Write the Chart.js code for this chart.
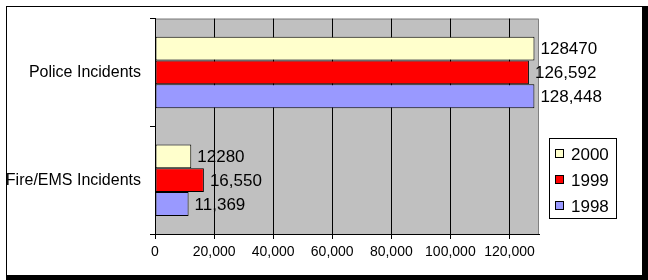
<!DOCTYPE html>
<html>
<head>
<meta charset="utf-8">
<style>
  html, body { margin: 0; padding: 0; background: #fff; }
  #wrap { width: 648px; height: 280px; }
</style>
<script src="https://cdn.jsdelivr.net/npm/chart.js@4.4.0/dist/chart.umd.min.js"></script>
</head>
<body>
<div id="wrap"><canvas id="incidents" width="648" height="280"></canvas></div>
<script>
// data
var categories = ['Police Incidents', 'Fire/EMS Incidents'];
var years = ['2000', '1999', '1998'];
var values2000 = [128470, 12280];
var values1999 = [126592, 16550];
var values1998 = [128448, 11369];
var useCommas = [false, true, true];   // the 2000 labels were typed without separators
var xMax = 130000;
var xTicks = [0, 20000, 40000, 60000, 80000, 100000, 120000];

var colors = ['#ffffcc', '#ff0000', '#9999ff'];
var FONT = '"Liberation Sans", Arial, sans-serif';

// frame, shadow and grey plot background
var backdrop = {
  id: 'backdrop',
  beforeDraw: function (chart) {
    var ctx = chart.ctx, a = chart.chartArea;
    ctx.save();
    ctx.fillStyle = '#fff';
    ctx.fillRect(0, 0, chart.width, chart.height);
    ctx.fillStyle = '#000';
    ctx.fillRect(642, 6, 6, 274);
    ctx.fillRect(6, 275, 642, 5);
    ctx.strokeStyle = '#000';
    ctx.lineWidth = 1;
    ctx.strokeRect(6.5, 6.5, 636, 269);
    ctx.fillStyle = '#c0c0c0';
    ctx.fillRect(a.left, a.top, a.right - a.left, a.bottom - a.top);
    ctx.strokeStyle = '#808080';
    ctx.beginPath();
    ctx.moveTo(a.left, a.top + 0.5);
    ctx.lineTo(Math.round(a.right) - 0.5, a.top + 0.5);
    ctx.lineTo(Math.round(a.right) - 0.5, a.bottom);
    ctx.stroke();
    ctx.restore();
  }
};

// value labels at the bar ends
var barLabels = {
  id: 'barLabels',
  afterDatasetsDraw: function (chart) {
    var ctx = chart.ctx;
    ctx.save();
    ctx.font = '17px ' + FONT;
    ctx.fillStyle = '#000';
    ctx.textAlign = 'left';
    ctx.textBaseline = 'middle';
    chart.data.datasets.forEach(function (ds, i) {
      chart.getDatasetMeta(i).data.forEach(function (bar, j) {
        var v = ds.data[j];
        var txt = useCommas[i] ? v.toLocaleString('en-US') : String(v);
        ctx.fillText(txt, bar.x + 6, bar.y + 1);
      });
    });
    ctx.restore();
  }
};

// boxed legend on the right
var boxLegend = {
  id: 'boxLegend',
  afterDraw: function (chart) {
    var ctx = chart.ctx, a = chart.chartArea;
    var left = Math.round(a.right) + 10, top = 138;
    ctx.save();
    ctx.fillStyle = '#fff';
    ctx.fillRect(left, top, 68, 81);
    ctx.strokeStyle = '#000';
    ctx.lineWidth = 1;
    ctx.strokeRect(left + 0.5, top + 0.5, 67, 80);
    ctx.font = '17px ' + FONT;
    ctx.textBaseline = 'middle';
    chart.data.datasets.forEach(function (ds, i) {
      var cy = top + 16 + i * 26;
      ctx.fillStyle = ds.backgroundColor;
      ctx.fillRect(left + 7, cy - 4, 7, 7);
      ctx.strokeRect(left + 6.5, cy - 4.5, 8, 8);
      ctx.fillStyle = '#000';
      ctx.fillText(ds.label, left + 22, cy + 1);
    });
    ctx.restore();
  }
};

var datasets = [values2000, values1999, values1998].map(function (vals, i) {
  return {
    label: years[i],
    data: vals,
    backgroundColor: colors[i],
    borderColor: '#000',
    borderWidth: 1,
    borderSkipped: false,
    barPercentage: 1,
    categoryPercentage: 0.664
  };
});

new Chart(document.getElementById('incidents'), {
  type: 'bar',
  data: { labels: categories, datasets: datasets },
  plugins: [backdrop, barLabels, boxLegend],
  options: {
    indexAxis: 'y',
    responsive: false,
    animation: false,
    layout: { padding: { left: 0, top: 17, right: 109, bottom: 0 } },
    plugins: {
      legend: { display: false },
      tooltip: { enabled: false }
    },
    scales: {
      x: {
        min: 0,
        max: xMax,
        afterFit: function (s) { s.height = 46; },
        afterBuildTicks: function (s) {
          s.ticks = xTicks.map(function (v) { return { value: v }; });
        },
        ticks: {
          autoSkip: false,
          maxRotation: 0,
          color: '#000',
          padding: 5,
          font: { family: '"Liberation Sans Narrow", ' + FONT, size: 14 },
          callback: function (v) { return v.toLocaleString('en-US'); }
        },
        grid: { color: '#000', lineWidth: 1, tickLength: 5 },
        border: { color: '#000' }
      },
      y: {
        afterFit: function (s) { s.width = 155; },
        ticks: {
          color: '#000',
          padding: 9,
          font: { family: FONT, size: 16 }
        },
        grid: { drawOnChartArea: false, color: '#000', tickLength: 5, offset: true },
        border: { color: '#000' }
      }
    }
  }
});
</script>
</body>
</html>
